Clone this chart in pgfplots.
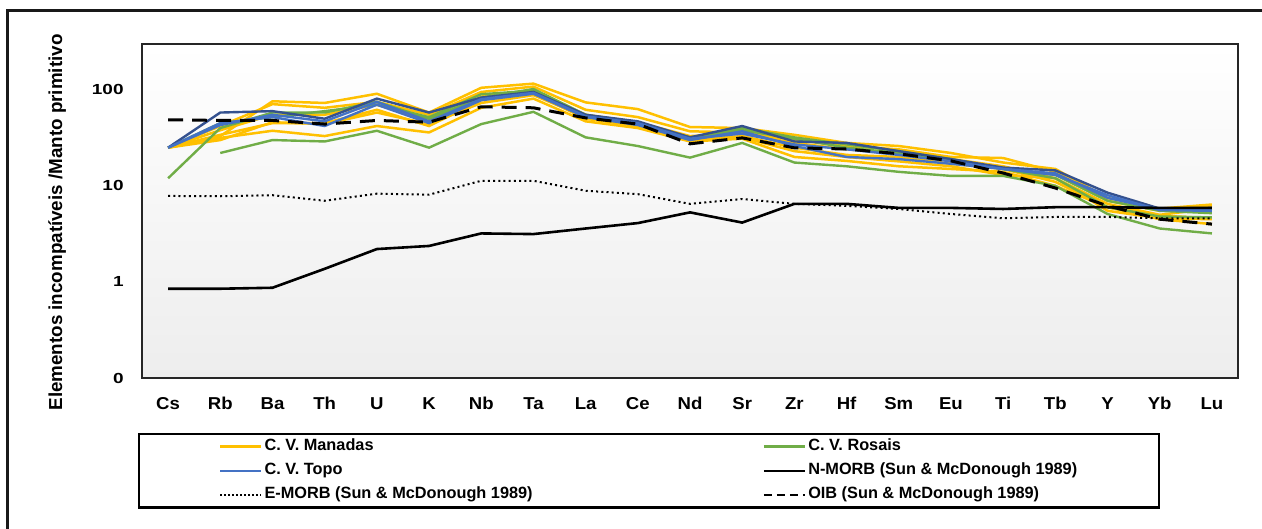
\documentclass[border=0pt]{standalone}
\usepackage{fontspec}
\setmainfont{Liberation Sans}
\newfontfamily\tickfont{Liberation Sans}[FakeStretch=1.3]
\newfontfamily\xtickfont{Liberation Sans}[FakeStretch=1.08]
\usepackage{pgfplots}
\pgfplotsset{compat=1.18}
\usepackage{pgfplotstable}

\definecolor{manadas}{HTML}{FFC000}
\definecolor{rosais}{HTML}{70AD47}
\definecolor{topo}{HTML}{4472C4}
\definecolor{topodark}{HTML}{34518F}

% C. V. Manadas samples
\pgfplotstableread{
x Y1 Y2 Y3 Y4 Y5 Y6
0 25 25 25 25 25 25
1 33 42 38 34 31.6 30
2 76 71 55 45 37.5 46
3 73 65 55 45 33 44
4 91 75 70 62 42 58
5 58 55 48 42 36 44
6 105 95 85 78 65 73
7 116 108 98 92 81 88
8 74 62 55 50 47 52
9 63 52 46 42 40 44
10 41 37 33 30 29 31
11 40 36 35 33 31 32
12 34 30 28 25 20 23
13 28 26 24 21 18.2 20
14 26 24 22 20 16 18
15 22 20 19 17 15 16
16 17.5 19.5 16 15 14 13
17 15 14 12 11 10 12
18 7.5 7 6.5 6 6 5.5
19 5.8 5.5 5 4.9 4.5 4.6
20 6.4 6.2 5.8 4.6 4.0 4.5
}\manadastab

% C. V. Rosais samples
\pgfplotstableread{
x G1 G2 G3
0 nan 12 25
1 22 40 45
2 30 58 52
3 29 58 60
4 37.5 75 70
5 25 50 52
6 44 83 90
7 59 102 98
8 32 55 54
9 26 45 44
10 19.7 32 31
11 28 38 40
12 17.5 31 32
13 16 25 27
14 14 22 23
15 12.7 19 19
16 12.7 15 15
17 10 12 13
18 5.1 6 7
19 3.6 4.8 5.5
20 3.2 4.7 5.2
}\rosaistab

% C. V. Topo samples
\pgfplotstableread{
x B1 B2 B3
0 25 25 25
1 58 45 43
2 60 52 55
3 50 42 47
4 81 70 75
5 58 45 47
6 83 78 80
7 95 91 93
8 55 52 53
9 47 43 45
10 32 30 31
11 42 37 35
12 29 26 27
13 28 20 24
14 23 19 21
15 19 17 18
16 15.5 15 15
17 14.5 13 13.5
18 8.5 8 7.5
19 5.8 5.6 5.7
20 5.9 5.5 5.7
}\topotab

% Reference compositions (Sun & McDonough 1989)
\pgfplotstableread{
x NMORB EMORB OIB
0 0.85 7.86 48.8
1 0.85 7.8 48
2 0.87 8.0 48
3 1.37 7.0 44
4 2.2 8.3 48
5 2.37 8.1 46
6 3.2 11.3 66.6
7 3.15 11.3 65
8 3.6 8.9 51
9 4.1 8.2 44
10 5.3 6.5 27.4
11 4.15 7.3 31.6
12 6.5 6.5 24.9
13 6.5 6.2 24.2
14 5.9 5.75 21.6
15 5.9 5.1 18.2
16 5.75 4.6 13.6
17 6.0 4.75 9.5
18 6.0 4.75 6.2
19 5.9 4.6 4.5
20 5.9 4.6 4.0
}\reftab

\begin{document}
\begin{tikzpicture}
\useasboundingbox (0,0) rectangle (631pt,-264.5pt);
\fill[white] (0,0) rectangle (631pt,-264.5pt);
\draw[line width=1.5pt, black!90] (3.5pt,-264.5pt) -- (3.5pt,-5.5pt) -- (631pt,-5.5pt);
\node[rotate=90, anchor=base, font=\bfseries\fontsize{9.4}{10}\selectfont] at (31pt,-111.25pt) {Elementos incompatíveis /Manto primitivo};
\begin{axis}[
  at={(71pt,-189pt)}, anchor=south west,
  scale only axis, width=548pt, height=167pt,
  ymode=log, ymin=0.1, ymax=300,
  xmin=-0.5, xmax=20.5,
  xtick={0,...,20},
  xticklabels={Cs,Rb,Ba,Th,U,K,Nb,Ta,La,Ce,Nd,Sr,Zr,Hf,Sm,Eu,Ti,Tb,Y,Yb,Lu},
  ytick={0.1,1,10,100},
  yticklabels={0,1,10,100},
  major tick length=0pt, minor tick length=0pt,
  tick style={draw=none},
  axis line style={black!85, line width=1.2pt},
  axis background/.style={shade, top color=white, bottom color=black!7},
  xticklabel style={font=\xtickfont\bfseries\fontsize{8.6}{9}\selectfont, inner sep=0pt, anchor=north, yshift=-9.5pt},
  yticklabel style={font=\tickfont\bfseries\fontsize{7.3}{8}\selectfont, inner sep=0pt, anchor=east, xshift=-9pt},
  legend columns=2,
  legend cell align=left,
  legend image code/.code={\draw[#1] (0pt,0pt) -- (20.5pt,0pt);},
  legend style={at={(-0.00365,-0.1647)}, anchor=north west, draw=black, line width=1.2pt, fill=white,
    font=\bfseries\fontsize{8.15}{9}\selectfont, inner xsep=40pt, inner ysep=1pt, row sep=1.7pt,
    nodes={inner sep=1pt, text depth=0.25em},
    /tikz/every even column/.append style={column sep=114pt}},
]
\addlegendimage{manadas, line width=1.2pt}
\addlegendentry{C. V. Manadas}
\addlegendimage{rosais, line width=1.2pt}
\addlegendentry{C. V. Rosais}
\addlegendimage{topo, line width=1.2pt}
\addlegendentry{C. V. Topo}
\addlegendimage{black, line width=1.2pt}
\addlegendentry{N-MORB (Sun \& McDonough 1989)}
\addlegendimage{black, line width=0.9pt, dash pattern=on 0.8pt off 1.2pt}
\addlegendentry{E-MORB (Sun \& McDonough 1989)}
\addlegendimage{black, line width=1.3pt, dash pattern=on 4pt off 2.5pt}
\addlegendentry{OIB (Sun \& McDonough 1989)}

\foreach \c in {Y1,Y2,Y3,Y4,Y5,Y6}{
  \addplot[manadas, line width=1.25pt, forget plot] table[x=x, y=\c] {\manadastab};
}
\foreach \c in {G1,G2,G3}{
  \addplot[rosais, line width=1.2pt, forget plot] table[x=x, y=\c] {\rosaistab};
}
\addplot[topodark, line width=1.2pt, forget plot] table[x=x, y=B1] {\topotab};
\addplot[topo, line width=1.2pt, forget plot] table[x=x, y=B2] {\topotab};
\addplot[topo, line width=1.2pt, forget plot] table[x=x, y=B3] {\topotab};

\addplot[black, line width=1.3pt, forget plot] table[x=x, y=NMORB] {\reftab};
\addplot[black, line width=1pt, dash pattern=on 1pt off 1.6pt, forget plot] table[x=x, y=EMORB] {\reftab};
\addplot[black, line width=1.5pt, dash pattern=on 7.5pt off 4.5pt, forget plot] table[x=x, y=OIB] {\reftab};
\end{axis}
\end{tikzpicture}
\end{document}
